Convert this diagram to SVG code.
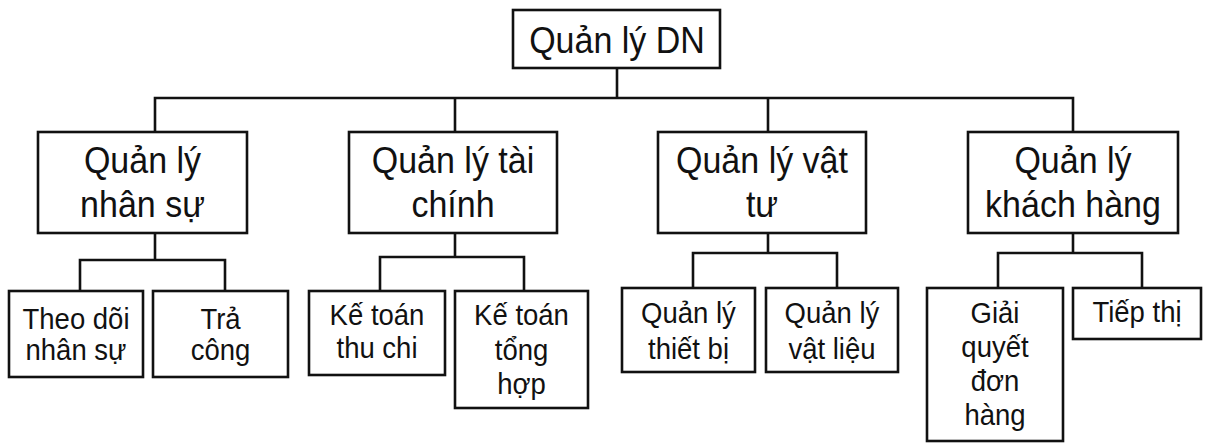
<svg xmlns="http://www.w3.org/2000/svg" width="1205" height="443" viewBox="0 0 1205 443">
  <style>
    .box { fill: #ffffff; stroke: #111111; stroke-width: 2.6; }
    .link { fill: none; stroke: #111111; stroke-width: 2.6; stroke-linecap: square; }
    .t0 { font-family: "Liberation Sans", Arial, sans-serif; font-size: 34px; fill: #111111; text-anchor: middle; }
    .t1 { font-family: "Liberation Sans", Arial, sans-serif; font-size: 34px; fill: #111111; text-anchor: middle; }
    .t2 { font-family: "Liberation Sans", Arial, sans-serif; font-size: 27.5px; fill: #111111; text-anchor: middle; }
  </style>
  <rect width="1205" height="443" fill="#ffffff"/>

  <!-- connectors -->
  <g id="connectors">
    <path class="link" d="M617 68 V98 M155 98 H1073 M155 98 V132 M455 98 V132 M768 98 V132 M1073 98 V132"/>
    <path class="link" d="M155 233 V260 M80 260 H225 M80 260 V291 M225 260 V291"/>
    <path class="link" d="M455 233 V257 M380 257 H524 M380 257 V291 M524 257 V291"/>
    <path class="link" d="M768 233 V253 M693 253 H837 M693 253 V288 M837 253 V288"/>
    <path class="link" d="M1073 233 V253 M998 253 H1142 M998 253 V288 M1142 253 V288"/>
  </g>

  <!-- root -->
  <g id="node-root">
    <rect class="box" x="513" y="10" width="207" height="58"/>
    <text class="t0" transform="translate(617,53) scale(1,1.1)">Quản lý DN</text>
  </g>

  <!-- level 1 -->
  <g id="node-nhansu">
    <rect class="box" x="38" y="132" width="209" height="101"/>
    <text class="t1" transform="translate(142.5,173) scale(1,1.1)"><tspan x="0" y="0">Quản lý</tspan><tspan x="0" y="40">nhân sự</tspan></text>
  </g>
  <g id="node-taichinh">
    <rect class="box" x="349" y="132" width="208" height="101"/>
    <text class="t1" transform="translate(453,173) scale(1,1.1)"><tspan x="0" y="0">Quản lý tài</tspan><tspan x="0" y="40">chính</tspan></text>
  </g>
  <g id="node-vattu">
    <rect class="box" x="658" y="132" width="208" height="101"/>
    <text class="t1" transform="translate(762,173) scale(1,1.1)"><tspan x="0" y="0">Quản lý vật</tspan><tspan x="0" y="40">tư</tspan></text>
  </g>
  <g id="node-khachhang">
    <rect class="box" x="968" y="132" width="210" height="101"/>
    <text class="t1" transform="translate(1073,173) scale(1,1.1)"><tspan x="0" y="0">Quản lý</tspan><tspan x="0" y="40">khách hàng</tspan></text>
  </g>

  <!-- level 2 -->
  <g id="node-theodoi">
    <rect class="box" x="9" y="291" width="134" height="86"/>
    <text class="t2" transform="translate(76,329) scale(1,1.05)"><tspan x="0" y="0">Theo dõi</tspan><tspan x="0" y="30">nhân sự</tspan></text>
  </g>
  <g id="node-tracong">
    <rect class="box" x="153" y="291" width="135" height="86"/>
    <text class="t2" transform="translate(220.5,329) scale(1,1.05)"><tspan x="0" y="0">Trả</tspan><tspan x="0" y="30">công</tspan></text>
  </g>
  <g id="node-thuchi">
    <rect class="box" x="309" y="291" width="136" height="84"/>
    <text class="t2" transform="translate(377,325) scale(1,1.05)"><tspan x="0" y="0">Kế toán</tspan><tspan x="0" y="31.5">thu chi</tspan></text>
  </g>
  <g id="node-tonghop">
    <rect class="box" x="455" y="291" width="133" height="117"/>
    <text class="t2" transform="translate(521.5,325) scale(1,1.05)"><tspan x="0" y="0">Kế toán</tspan><tspan x="0" y="33">tổng</tspan><tspan x="0" y="66">hợp</tspan></text>
  </g>
  <g id="node-thietbi">
    <rect class="box" x="622" y="288" width="133" height="84"/>
    <text class="t2" transform="translate(688.5,323) scale(1,1.05)"><tspan x="0" y="0">Quản lý</tspan><tspan x="0" y="34">thiết bị</tspan></text>
  </g>
  <g id="node-vatlieu">
    <rect class="box" x="766" y="288" width="132" height="84"/>
    <text class="t2" transform="translate(832,323) scale(1,1.05)"><tspan x="0" y="0">Quản lý</tspan><tspan x="0" y="34">vật liệu</tspan></text>
  </g>
  <g id="node-donhang">
    <rect class="box" x="927" y="288" width="136" height="153"/>
    <text class="t2" transform="translate(995,323) scale(1,1.05)"><tspan x="0" y="0">Giải</tspan><tspan x="0" y="32.5">quyết</tspan><tspan x="0" y="65">đơn</tspan><tspan x="0" y="97">hàng</tspan></text>
  </g>
  <g id="node-tiepthi">
    <rect class="box" x="1073" y="288" width="128" height="51"/>
    <text class="t2" transform="translate(1137,322) scale(1,1.05)">Tiếp thị</text>
  </g>
</svg>
